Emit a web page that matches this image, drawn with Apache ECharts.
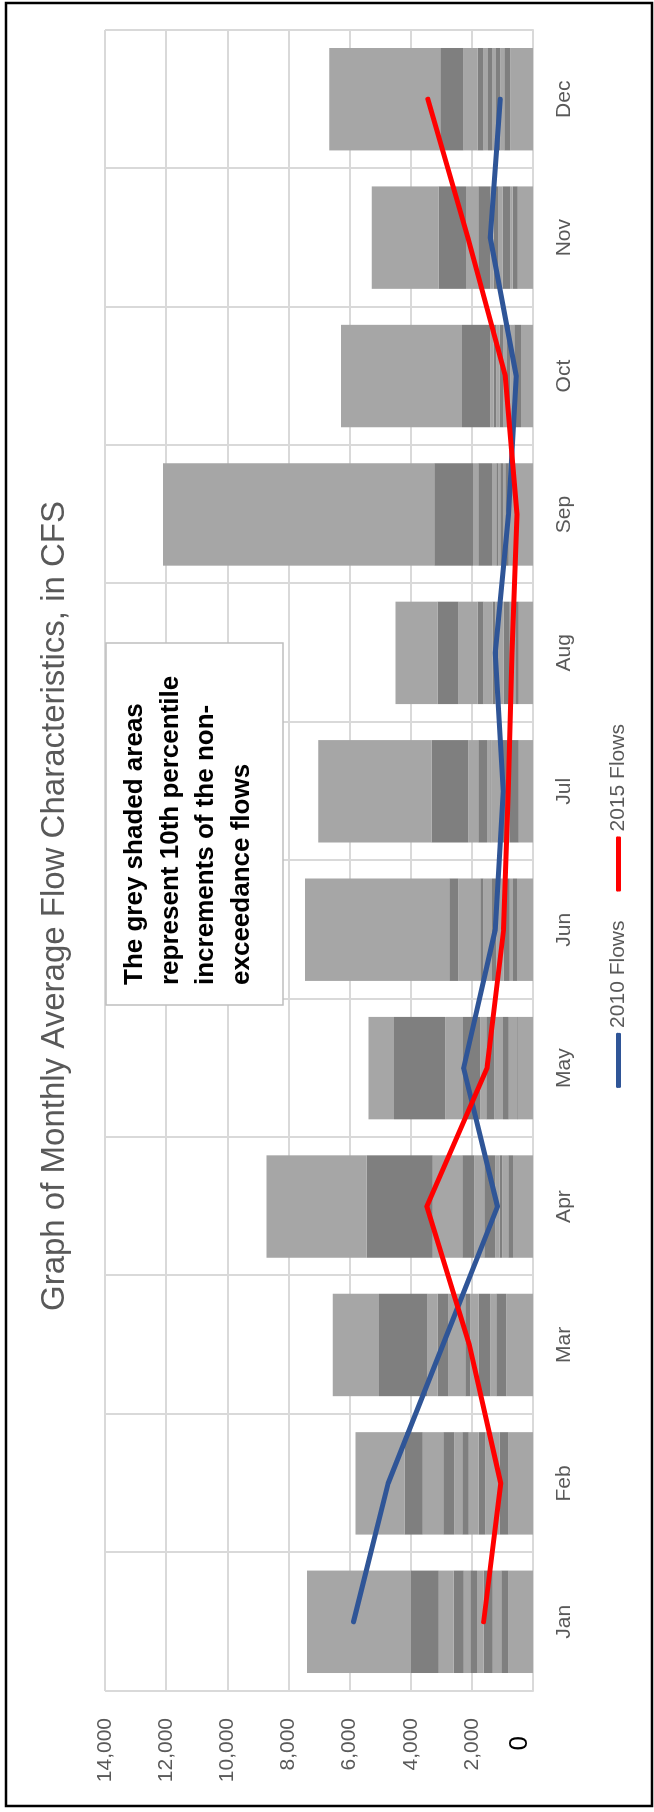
<!DOCTYPE html>
<html>
<head>
<meta charset="utf-8">
<script src="https://cdn.jsdelivr.net/npm/echarts@6/dist/echarts.min.js"></script>
<style>
html,body{margin:0;padding:0;background:#fff;width:654px;height:1812px;overflow:hidden;}
#chart{position:absolute;left:0;top:0;width:1812px;height:654px;transform-origin:0 0;transform:translate(0,1812px) rotate(-90deg);}
</style>
</head>
<body>
<div id="chart"></div>
<script>
const months = ['Jan','Feb','Mar','Apr','May','Jun','Jul','Aug','Sep','Oct','Nov','Dec'];
// Non-exceedance flow percentiles (cumulative CFS)
const flowMin = [798, 798, 874, 655, 502, 524, 470, 470, 797, 393, 502, 743];
const flowP10 = [1037, 1092, 1201, 808, 524, 655, 764, 579, 906, 612, 666, 939];
const flowP20 = [1320, 1559, 1398, 1005, 797, 764, 852, 764, 983, 743, 743, 1070];
const flowP30 = [1614, 1778, 1780, 1092, 983, 961, 1016, 961, 1070, 852, 994, 1212];
const flowP40 = [1832, 2105, 2053, 1234, 1267, 1201, 1365, 1234, 1125, 961, 1125, 1343];
const flowP50 = [2050, 2311, 2217, 1594, 1529, 1343, 1398, 1321, 1201, 1092, 1289, 1474];
const flowP60 = [2268, 2573, 2763, 1922, 1725, 1616, 1507, 1616, 1343, 1201, 1398, 1616];
const flowP70 = [2595, 2935, 3123, 2315, 2293, 1725, 1791, 1813, 1791, 1289, 1791, 1813];
const flowP80 = [3085, 3608, 3451, 3276, 2872, 2446, 2118, 2435, 1966, 1398, 2195, 2271];
const flowP90 = [3990, 4206, 5034, 5438, 4543, 2741, 3320, 3123, 3232, 2326, 3090, 3036];
const flowMax = [7390, 5809, 6552, 8714, 5384, 7458, 7022, 4499, 12100, 6279, 5274, 6661];
// Observed monthly average flows
const flows2010 = [5870, 4740, 2950, 1160, 2270, 1234, 970, 1234, 800, 546, 1398, 1070];
const flows2015 = [1615, 1055, 2080, 3473, 1507, 961, 810, 688, 524, 906, 2130, 3440];
const valueTicks = [0, 2000, 4000, 6000, 8000, 10000, 12000, 14000];

const titleText = 'Graph of Monthly Average Flow Characteristics, in CFS';
const noteLines = ['The grey shaded areas', 'represent 10th percentile', 'increments of the non-', 'exceedance flows'];

const levels = [flowMin, flowP10, flowP20, flowP30, flowP40, flowP50, flowP60, flowP70, flowP80, flowP90, flowMax];
const LIGHT = '#a6a6a6', DARK = '#7f7f7f';
const FONT = 'Liberation Sans';

const barSeries = levels.map((lv, i) => ({
  type: 'bar',
  name: 'band' + i,
  stack: 'pct',
  barCategoryGap: '26%',
  itemStyle: { color: i % 2 === 0 ? LIGHT : DARK },
  emphasis: { disabled: true },
  silent: true,
  data: lv.map((v, m) => i === 0 ? v : v - levels[i - 1][m])
}));

const lineSeries = [
  { name: '2010 Flows', data: flows2010, color: '#2f5597' },
  { name: '2015 Flows', data: flows2015, color: '#ff0000' }
].map(s => ({
  type: 'line',
  name: s.name,
  data: s.data,
  symbol: 'none',
  z: 5,
  itemStyle: { color: s.color },
  lineStyle: { color: s.color, width: 5, cap: 'round', join: 'round' }
}));

const noteTexts = noteLines.map((t, i) => ({
  type: 'text', z: 51, x: 827, y: 135 + i * 35.6,
  style: { text: t, fontFamily: FONT, fontSize: 26, fontWeight: 'bold',
           fill: '#000', verticalAlign: 'middle', align: 'left' }
}));

const chart = echarts.init(document.getElementById('chart'), null, { renderer: 'canvas' });
chart.setOption({
  animation: false,
  backgroundColor: '#fff',
  title: {
    text: titleText,
    left: 'center',
    top: 33,
    textStyle: { fontFamily: FONT, fontSize: 33, fontWeight: 'normal', color: '#595959' }
  },
  legend: {
    data: ['2010 Flows', '2015 Flows'],
    left: 'center',
    top: 603,
    icon: 'roundRect',
    itemWidth: 55,
    itemHeight: 5,
    itemGap: 29,
    textStyle: { fontFamily: FONT, fontSize: 21, color: '#595959' }
  },
  grid: { left: 121, right: 30, top: 105, bottom: 121, containLabel: false },
  xAxis: {
    type: 'category',
    data: months,
    boundaryGap: true,
    axisLine: { show: true, lineStyle: { color: '#d9d9d9', width: 2 } },
    axisTick: { show: false },
    splitLine: { show: true, lineStyle: { color: '#d9d9d9', width: 2 } },
    axisLabel: { fontFamily: FONT, fontSize: 21, color: '#595959', margin: 21 }
  },
  yAxis: {
    type: 'value',
    min: valueTicks[0],
    max: valueTicks[valueTicks.length - 1],
    interval: valueTicks[1] - valueTicks[0],
    axisLine: { show: false },
    axisTick: { show: false },
    splitLine: { lineStyle: { color: '#d9d9d9', width: 2 } },
    axisLabel: {
      fontFamily: FONT, fontSize: 21, color: '#595959', margin: 27,
      formatter: v => v === 0 ? '{z|0}' : v.toLocaleString('en-US'),
      rich: { z: { fontFamily: FONT, fontSize: 26, color: '#000', padding: [0, 18, 27, 0] } }
    }
  },
  graphic: [
    { type: 'rect', z: 100, silent: true, shape: { x: 6, y: 6, width: 1803, height: 646 },
      style: { fill: 'none', stroke: '#000', lineWidth: 2.5 } },
    { type: 'rect', z: 50, silent: true, shape: { x: 807, y: 106, width: 362, height: 177 },
      style: { fill: '#fff', stroke: '#bfbfbf', lineWidth: 1.5 } }
  ].concat(noteTexts),
  series: barSeries.concat(lineSeries)
});
</script>
</body>
</html>
